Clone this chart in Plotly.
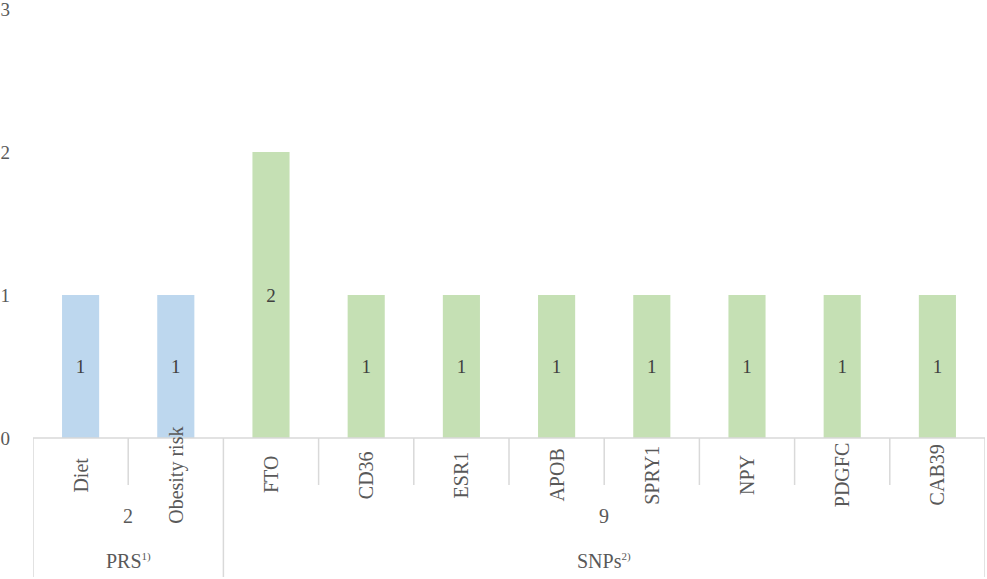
import plotly.graph_objects as go

categories = ["Diet", "Obesity risk", "FTO", "CD36", "ESR1", "APOB", "SPRY1", "NPY", "PDGFC", "CAB39"]
values = [1, 1, 2, 1, 1, 1, 1, 1, 1, 1]
group_names = ["PRS<sup><span style='font-size:11px'>1)</span></sup>",
               "SNPs<sup><span style='font-size:11px'>2)</span></sup>"]
group_sizes = [2, 8]
group_colors = ["#BDD7EE", "#C5E0B4"]
y_ticks = [0, 1, 2, 3]

FONT = "Liberation Serif, Times New Roman, serif"
TXT = "#595959"
LINE = "#D9D9D9"

colors = []
for gc, n in zip(group_colors, group_sizes):
    colors += [gc] * n

fig = go.Figure(go.Bar(
    x=list(range(len(categories))), y=values,
    marker=dict(color=colors, line=dict(width=0)),
    text=[str(v) for v in values], textposition="inside", insidetextanchor="middle",
    textfont=dict(family=FONT, size=19, color="#404040"),
    width=0.39, cliponaxis=False,
))

H = 429.0
def py(pix):
    return -(pix - 437) / H

shapes = []
annotations = []
shapes.append(dict(type="line", xref="x", yref="paper", x0=-0.5, x1=len(categories) - 0.5,
                   y0=0, y1=0, line=dict(color=LINE, width=1.5)))
start = 0
group_bounds = [-0.5]
for n in group_sizes:
    start += n
    group_bounds.append(start - 0.5)
for i, c in enumerate(categories):
    annotations.append(dict(x=i, y=py(474), xref="x", yref="paper", text=c, textangle=-90,
                            showarrow=False, font=dict(family=FONT, size=20, color=TXT),
                            xanchor="center", yanchor="middle"))
for b in range(len(categories) + 1):
    xb = b - 0.5
    full = xb in group_bounds
    shapes.append(dict(type="line", xref="x", yref="paper", x0=xb, x1=xb, y0=0,
                       y1=py(576 if full else 484), line=dict(color=LINE, width=1.5)))
s = 0
for name, n in zip(group_names, group_sizes):
    center = s + (n - 1) / 2
    total = sum(values[s:s + n])
    annotations.append(dict(x=center, y=py(515), xref="x", yref="paper", text=str(total),
                            showarrow=False, font=dict(family=FONT, size=20, color=TXT),
                            xanchor="center", yanchor="middle"))
    annotations.append(dict(x=center, y=py(560), xref="x", yref="paper", text=name,
                            showarrow=False, font=dict(family=FONT, size=20, color=TXT),
                            xanchor="center", yanchor="middle"))
    s += n

fig.update_layout(
    width=987, height=579,
    margin=dict(l=33, r=2, t=9, b=141),
    plot_bgcolor="white", paper_bgcolor="white",
    showlegend=False,
    shapes=shapes, annotations=annotations,
    xaxis=dict(range=[-0.5, len(categories) - 0.5], showticklabels=False, showgrid=False,
               zeroline=False, showline=False, ticks="", automargin=False),
    yaxis=dict(range=[0, 3], tickvals=y_ticks, showgrid=False, zeroline=False, showline=False,
               tickfont=dict(family=FONT, size=19, color=TXT), ticklabelstandoff=22,
               automargin=False, ticklabeloverflow="allow"),
)

fig.write_html("out.html", config={"displayModeBar": False},
               post_script="document.body.style.margin='0';document.body.style.overflow='hidden';")
